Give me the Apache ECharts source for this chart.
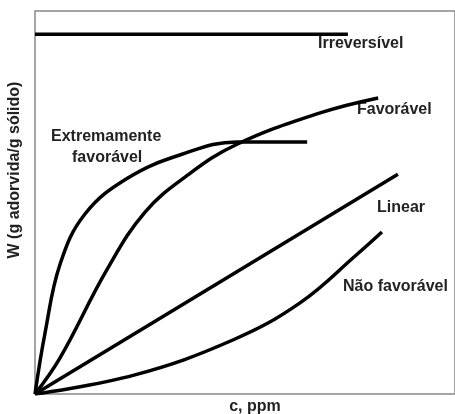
<!DOCTYPE html>
<html>
<head>
<meta charset="utf-8">
<script src="https://cdn.jsdelivr.net/npm/echarts@6/dist/echarts.min.js"></script>
<style>
  html, body { margin: 0; padding: 0; background: #fff; }
  #main { width: 455px; height: 414px; }
</style>
</head>
<body>
<div id="main"></div>
<script>
// curvas (c em % do eixo, W em % do eixo)
var irreversivel = [[0, 93.9], [74.5, 93.9]]
var favoravel = [[0, 0], [6.0, 9.5], [17.1, 32.4], [26.2, 47.5], [36.4, 57.2], [48.1, 65.2],
  [67.9, 73.4], [81.7, 77.3]]
var extremamente = [[0, 0], [2.4, 16.0], [6.0, 34.0], [11.9, 47.0], [22.1, 56.4], [35.0, 62.6],
  [48.1, 65.8], [64.8, 65.8]]
var linear = [[0, 0], [86.4, 57.4]]
var naoFavoravel = [[0, 0], [23.8, 5.0], [47.1, 14.1], [63.1, 23.8], [76.7, 36.5], [82.6, 42.3]]

var labelFont = 'bold 16px "Liberation Sans", Arial, sans-serif'

function curve(name, data, smooth) {
  return {
    name: name,
    type: 'line',
    data: data,
    smooth: smooth,
    showSymbol: false,
    silent: true,
    lineStyle: { color: '#000', width: 3.5 }
  }
}

function label(text, x, y) {
  return {
    type: 'text',
    x: x,
    y: y,
    style: { text: text, font: labelFont, fill: '#222', textVerticalAlign: 'middle' }
  }
}

var chart = echarts.init(document.getElementById('main'))
chart.setOption({
  animation: false,
  backgroundColor: '#fff',
  grid: { left: 35, right: -3, top: 11, bottom: 20, show: true, borderColor: '#888', borderWidth: 1.5 },
  xAxis: {
    type: 'value', min: 0, max: 100,
    axisLine: { show: false }, axisTick: { show: false }, axisLabel: { show: false }, splitLine: { show: false }
  },
  yAxis: {
    type: 'value', min: 0, max: 100,
    axisLine: { show: false }, axisTick: { show: false }, axisLabel: { show: false }, splitLine: { show: false }
  },
  series: [
    curve('Irreversível', irreversivel, false),
    curve('Favorável', favoravel, 0.4),
    curve('Extremamente favorável', extremamente, 0.4),
    curve('Linear', linear, false),
    curve('Não favorável', naoFavoravel, 0.4)
  ],
  graphic: [
    label('Irreversível', 318, 44),
    label('Favorável', 357, 110),
    label('Extremamente', 51, 137),
    label('favorável', 72, 158),
    label('Linear', 377, 208),
    label('Não favorável', 343, 287),
    {
      type: 'text', x: 255, y: 407,
      style: { text: 'c, ppm', font: labelFont, fill: '#222', textAlign: 'center', textVerticalAlign: 'middle' }
    },
    {
      type: 'text', x: 15, y: 170, rotation: Math.PI / 2,
      style: { text: 'W (g adorvida/g sólido)', font: labelFont, fill: '#222', textAlign: 'center', textVerticalAlign: 'middle' }
    }
  ]
})
</script>
</body>
</html>
